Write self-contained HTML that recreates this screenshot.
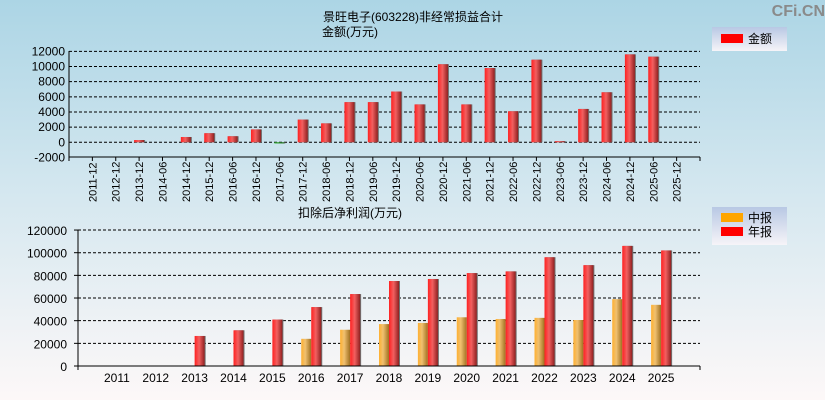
<!DOCTYPE html>
<html><head><meta charset="utf-8"><style>
body{margin:0;width:825px;height:400px;overflow:hidden;font-family:"Liberation Sans","Noto Sans CJK SC",sans-serif;}
svg text{font-family:"Liberation Sans","Noto Sans CJK SC",sans-serif;}
</style></head><body>
<svg id="c" width="825" height="400" xmlns="http://www.w3.org/2000/svg">
<defs>
<linearGradient id="bg" x1="0" y1="0" x2="0" y2="1"><stop offset="0" stop-color="#acd5e5"/><stop offset="0.5" stop-color="#d6e8f0"/><stop offset="1" stop-color="#fdf8f8"/></linearGradient>
<linearGradient id="rg" x1="0" x2="1"><stop offset="0" stop-color="#ff2020"/><stop offset="0.45" stop-color="#f26060"/><stop offset="1" stop-color="#902020"/></linearGradient>
<linearGradient id="og" x1="0" x2="1"><stop offset="0" stop-color="#ffb030"/><stop offset="0.4" stop-color="#f0c070"/><stop offset="1" stop-color="#a07020"/></linearGradient>
<linearGradient id="gg" x1="0" x2="1"><stop offset="0" stop-color="#30c030"/><stop offset="1" stop-color="#207020"/></linearGradient>
<linearGradient id="lg" x1="0" y1="0" x2="0" y2="1"><stop offset="0" stop-color="#b8c8e4"/><stop offset="1" stop-color="#f6f4f8"/></linearGradient>
</defs>
<rect width="825" height="400" fill="url(#bg)"/>
<text x="825" y="16" text-anchor="end" font-size="16" font-weight="bold" fill="#8a8a8a">CFi.CN</text>
<text x="323" y="21" font-size="12">景旺电子(603228)非经常损益合计</text>
<text x="322" y="36" font-size="12">金额(万元)</text>
<text x="298" y="217" font-size="12">扣除后净利润(万元)</text>
<g>
<rect x="712" y="27" width="75" height="24" fill="url(#lg)"/>
<rect x="721" y="34" width="22" height="9" fill="#ff0000"/>
<text x="748" y="43" font-size="12">金额</text>
</g>
<g>
<rect x="712" y="207" width="75" height="38" fill="url(#lg)"/>
<rect x="721" y="213" width="22" height="9" fill="#ffa500"/>
<text x="748" y="222" font-size="12">中报</text>
<rect x="721" y="227" width="22" height="9" fill="#ff0000"/>
<text x="748" y="236" font-size="12">年报</text>
</g>
<g id="top"></g><g id="bot"></g>
</svg>
<script>
const topCats=["2011-12","2012-12","2013-12","2014-06","2014-12","2015-12","2016-06","2016-12","2017-06","2017-12","2018-06","2018-12","2019-06","2019-12","2020-06","2020-12","2021-06","2021-12","2022-06","2022-12","2023-06","2023-12","2024-06","2024-12","2025-06","2025-12"];
const topVals=[0,0,300,0,700,1200,800,1700,-150,3000,2500,5300,5300,6700,5000,10300,5000,9800,4100,10900,150,4400,6600,11600,11300,0];
const topTicks=[12000,10000,8000,6000,4000,2000,0,-2000];
const botCats=["2011","2012","2013","2014","2015","2016","2017","2018","2019","2020","2021","2022","2023","2024","2025"];
const botInterim=[0,0,0,0,0,24000,32000,37000,38000,43000,41500,42500,40600,59000,54000];
const botAnnual=[0,0,26500,31500,41000,52000,63500,75000,76800,82000,83500,96000,89000,106000,102000];
const botTicks=[120000,100000,80000,60000,40000,20000,0];
const NS="http://www.w3.org/2000/svg";
function mk(p,t,a,txt){const e=document.createElementNS(NS,t);for(const k in a)e.setAttribute(k,a[k]);if(txt!==undefined)e.textContent=txt;p.appendChild(e);return e;}
// top chart
const T=document.getElementById('top');
const tx0=69,tx1=700,ty=v=>142.3-v*0.00758;
const tband=(tx1-tx0)/(topCats.length+1);
const tcx=i=>tx0+(i+1)*tband;
topTicks.forEach(v=>{
 if(v!==-2000){const l=mk(T,'line',{x1:tx0,x2:tx1,y1:ty(v),y2:ty(v),stroke:'#000','stroke-dasharray':'3,2'});
 
 }
 const t=mk(T,'text',{x:tx0-4,y:ty(v)+4,'text-anchor':'end','font-size':12},String(v));
 
 
});
topVals.forEach((v,i)=>{
 const x=tcx(i);
 if(v!==0){const y0=ty(Math.max(v,0)),h=Math.abs(ty(v)-ty(0));
 mk(T,'rect',{x:x-4,y:y0,width:10,height:Math.max(h,1),fill:'#707070'});
 const r=mk(T,'rect',{x:x-5,y:y0,width:10,height:Math.max(h,1),fill:v<0?'url(#gg)':'url(#rg)'});
 
 }
 mk(T,'line',{x1:x,x2:x,y1:157,y2:161,stroke:'#000'});
 const t=mk(T,'text',{transform:`translate(${x+4},202) rotate(-90)`,'font-size':11},topCats[i]);
 
 
});
mk(T,'line',{x1:tx0,x2:tx0,y1:51,y2:161,stroke:'#000'});
mk(T,'line',{x1:tx0,x2:tx1,y1:157,y2:157,stroke:'#000'});
mk(T,'line',{x1:tx1,x2:tx1,y1:157,y2:161,stroke:'#000'});
// bottom chart
const B=document.getElementById('bot');
const bx0=78,bx1=700,by=v=>366-v*0.001133;
const bband=(bx1-bx0)/(botCats.length+1);
const bcx=i=>bx0+(i+1)*bband;
botTicks.forEach(v=>{
 if(v!==0){const l=mk(B,'line',{x1:bx0,x2:bx1,y1:by(v),y2:by(v),stroke:'#000','stroke-dasharray':'3,2'});
 
 }
 const t=mk(B,'text',{x:bx0-11,y:by(v)+5,'text-anchor':'end','font-size':12},String(v));
 
 
 mk(B,'line',{x1:bx0-4,x2:bx0,y1:by(v),y2:by(v),stroke:'#000'});
});
botCats.forEach((c,i)=>{
 const x=bcx(i);
 if(botInterim[i]>0){const r=mk(B,'rect',{x:x-10,y:by(botInterim[i]),width:10,height:by(0)-by(botInterim[i]),fill:'url(#og)'});
 
 }
 if(botAnnual[i]>0){mk(B,'rect',{x:x+1,y:by(botAnnual[i]),width:10,height:by(0)-by(botAnnual[i]),fill:'#707070'});
 const r=mk(B,'rect',{x:x,y:by(botAnnual[i]),width:10,height:by(0)-by(botAnnual[i]),fill:'url(#rg)'});
 
 }
 const t=mk(B,'text',{x:x,y:382,'text-anchor':'middle','font-size':12},c);
 
 
});
mk(B,'line',{x1:bx0,x2:bx0,y1:230,y2:370,stroke:'#000'});
mk(B,'line',{x1:bx0,x2:bx1,y1:366,y2:366,stroke:'#000'});
mk(B,'line',{x1:bx1,x2:bx1,y1:366,y2:370,stroke:'#000'});
</script>
</body></html>
